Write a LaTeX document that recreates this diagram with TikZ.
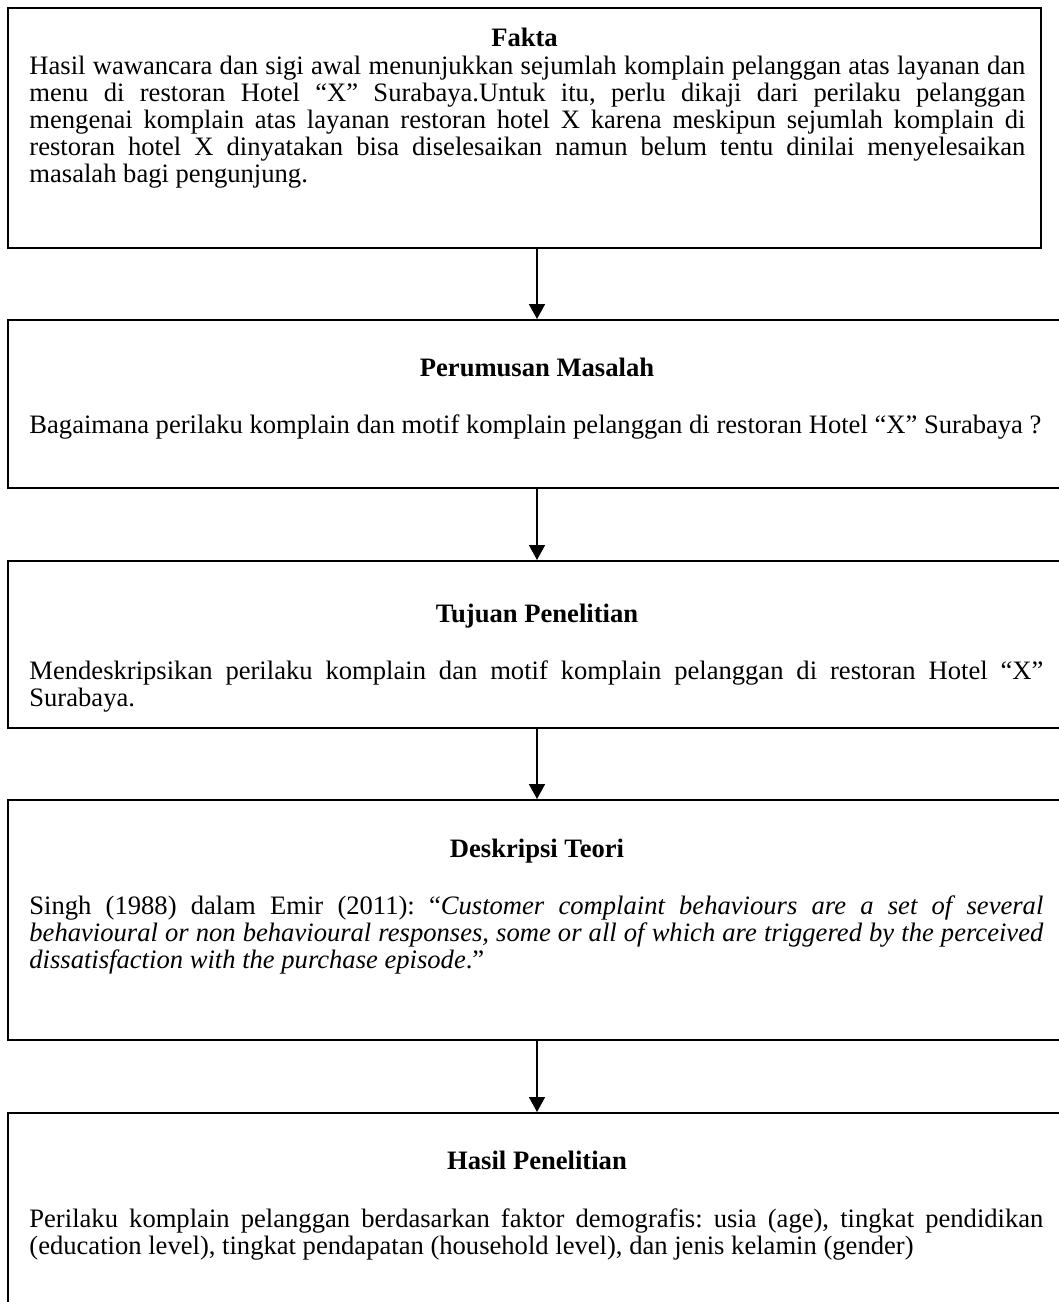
\documentclass[tikz,border=0pt]{standalone}
\usepackage{fontspec}
\setmainfont{Liberation Serif}
\usetikzlibrary{arrows.meta}
\frenchspacing
\begin{document}
\begin{tikzpicture}[x=0.5pt,y=-0.5pt,
  box/.style={draw, line width=1pt, rectangle, inner sep=0pt},
  wide/.style={minimum width=529pt},
  title/.style={font=\fontsize{13.3pt}{13.6pt}\selectfont\bfseries, anchor=base, inner sep=0pt},
  body/.style={font=\fontsize{13.3pt}{13.6pt}\selectfont\frenchspacing, anchor=base west, inner sep=0pt, align=justify, text width=507pt},
  flow/.style={-{Triangle[width=8pt,length=7.5pt]}, line width=0.9pt}]
\useasboundingbox (0,0) rectangle (1059,1302);
\clip (0,0) rectangle (1059,1302);

% boxes
\node[box, minimum width=516.5pt, minimum height=120pt] (b1) at (524.5,128) {};
\node[box, wide, minimum height=84pt] (b2) at (537,404) {};
\node[box, wide, minimum height=83.5pt] (b3) at (537,644.5) {};
\node[box, wide, minimum height=120pt] (b4) at (537,920) {};
\node[box, wide, minimum height=108.5pt] (b5) at (537,1221.5) {};

% texts
\node[title] (h1) at (524.5,46) {Fakta};
\node[body, text width=498pt] (p1) at (29,74) {Hasil wawancara dan sigi awal menunjukkan sejumlah komplain pelanggan atas layanan dan\linebreak
menu di restoran Hotel “X” Surabaya.Untuk itu, perlu dikaji dari perilaku pelanggan\linebreak
mengenai komplain atas layanan restoran hotel X karena meskipun sejumlah komplain di\linebreak
restoran hotel X dinyatakan bisa diselesaikan namun belum tentu dinilai menyelesaikan\linebreak
masalah bagi pengunjung.};

\node[title] (h2) at (537,376) {Perumusan Masalah};
\node[body] (p2) at (29,433) {Bagaimana perilaku komplain dan motif komplain pelanggan di restoran Hotel “X” Surabaya ?};

\node[title] (h3) at (537,622) {Tujuan Penelitian};
\node[body] (p3) at (29,679) {Mendeskripsikan perilaku komplain dan motif komplain pelanggan di restoran Hotel “X”\linebreak
Surabaya.};

\node[title] (h4) at (537,857) {Deskripsi Teori};
\node[body] (p4) at (29,914) {Singh (1988) dalam Emir (2011): “\textit{Customer complaint behaviours are a set of several}\linebreak
\textit{behavioural or non behavioural responses, some or all of which are triggered by the perceived}\linebreak
\textit{dissatisfaction with the purchase episode}.”};

\node[title] (h5) at (537,1169) {Hasil Penelitian};
\node[body] (p5) at (29,1227) {Perilaku komplain pelanggan berdasarkan faktor demografis: usia (age), tingkat pendidikan\linebreak
(education level), tingkat pendapatan (household level), dan jenis kelamin (gender)};

% connectors
\draw[flow] (b1.south -| b2.north) -- (b2.north);
\draw[flow] (b2.south) -- (b3.north);
\draw[flow] (b3.south) -- (b4.north);
\draw[flow] (b4.south) -- (b5.north);
\end{tikzpicture}
\end{document}
